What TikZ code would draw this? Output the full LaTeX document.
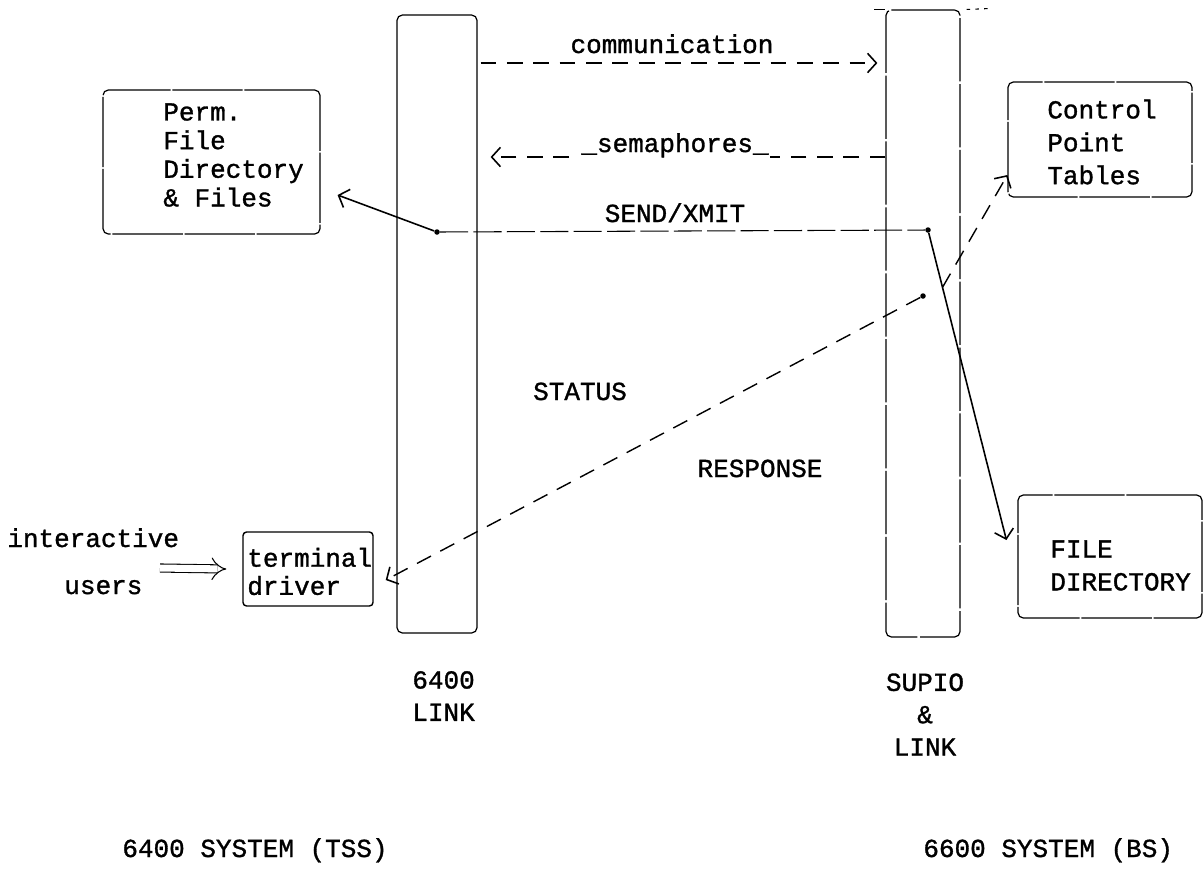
\documentclass[tikz,border=0pt]{standalone}
\usepackage{fontspec}
\setmainfont{Liberation Mono}[FakeBold=1.2]
\usetikzlibrary{arrows.meta}
\begin{document}
\begin{tikzpicture}[x=0.02cm,y=-0.02cm,
  every node/.style={font=\fontsize{14.8}{18.4}\selectfont, inner sep=0pt},
  box/.style={draw, line width=0.7pt, rounded corners=3pt, dash pattern=on 40pt off 1pt},
  col/.style={draw, line width=0.7pt, rounded corners=3pt},
  txt/.style={align=left, anchor=west},
  dsh/.style={line width=0.8pt, dash pattern=on 9pt off 6pt},
  sendline/.style={line width=0.6pt, dash pattern=on 16pt off 3pt},
  solidc/.style={line width=0.9pt},
  tip/.style={-{Straight Barb[length=5pt,width=11pt,line width=0.9pt]}},
  dotn/.style={circle, fill, inner sep=0pt, minimum size=0.11cm}
]
\useasboundingbox (0,0) rectangle (1204,877);

% columns
\node[col, minimum width=1.6cm, minimum height=12.36cm] (lcol) at (437,324) {};
\node[col, dash pattern=on 36pt off 1.5pt, minimum width=1.48cm, minimum height=12.54cm] (rcol) at (923,323.5) {};
\draw[line width=0.7pt] ([xshift=-0.22cm]rcol.north west) -- (rcol.north west);
\draw[line width=0.6pt, dash pattern=on 2pt off 3pt] ([xshift=0.12cm]rcol.north east) -- +(25,-1);

% boxes
\node[box, minimum width=4.34cm, minimum height=2.88cm] (perm) at (211.5,162) {};
\node[txt, font=\fontsize{14.8}{16.3}\selectfont] (permtxt) at (163,155) {Perm.\\File\\Directory\\\& Files};

\node[box, minimum width=3.68cm, minimum height=2.3cm] (cpt) at (1100,139.5) {};
\node[txt, font=\fontsize{14.8}{18.7}\selectfont] (cpttxt) at (1047,142) {Control\\Point\\Tables};

\node[box, minimum width=3.68cm, minimum height=2.46cm] (fd) at (1110,556.5) {};
\node[txt, font=\fontsize{14.8}{18.7}\selectfont] (fdtxt) at (1050,565.5) {FILE\\DIRECTORY};

\node[draw, line width=0.8pt, rounded corners=2pt, minimum width=2.6cm, minimum height=1.48cm] (td) at (308,569) {};
\node[txt, font=\fontsize{14.8}{16}\selectfont] (tdtxt) at (247,571.5) {terminal\\driver};

% labels
\node[anchor=base] (comm) at (672,53) {communication};
\node[anchor=base] (send) at (675,222) {SEND/XMIT};
\node[anchor=base] (status) at (580,400) {STATUS};
\node[anchor=base] (resp) at (760,477) {RESPONSE};
\node[txt] (link1) at (412,696) {6400\\LINK};
\node[align=center] (link2) at (925,714.5) {SUPIO\\\&\\LINK};
\node[anchor=base west] (sys1) at (122,857) {6400 SYSTEM (TSS)};
\node[anchor=base west] (sys2) at (923,857) {6600 SYSTEM (BS)};
\node[anchor=base west] (inter) at (7,547) {interactive};
\node[anchor=base west] (users) at (64,594) {users};

% helper heights
\coordinate (y62) at (0,63);
\coordinate (y157) at (0,157);

% communication / semaphores
\draw[dsh, tip, shorten <=0.06cm, shorten >=0.16cm] (lcol.east |- y62) -- (rcol.west |- y62);
\draw[dsh, tip, shorten >=0.26cm] (rcol.west |- y157) -- (lcol.east |- y157);
\node[anchor=base, fill=white, inner xsep=1pt, inner ysep=0.5pt] (sema) at (675,152) {\_semaphores\_};

% dots
\node[dotn] (d1) at (437,232) {};
\node[dotn] (d2) at (928,230) {};
\node[dotn] (d3) at (923,296) {};

% SEND/XMIT
\draw[sendline] (d1) -- (d2);
\draw[solidc, tip] (d1) -- ([shift={(17,33)}]perm.east);
\draw[solidc, tip] (d2) -- ([shift={(-11,-16.5)}]fd.west);
\path (d2) -- ([shift={(-11,-16.5)}]fd.west) coordinate[pos=0.177] (cps);

% STATUS / RESPONSE
\draw[dsh, tip] (d3) -- ([shift={(12,11)}]td.east);
\draw[dsh, tip] (cps) -- ([shift={(0,35.5)}]cpt.west);

% interactive users
\coordinate (ua) at (160,568);
\draw[line width=0.6pt, double, double distance=4pt, -{Implies}] (ua) -- ([shift={(-16,0)}]td.west);
\end{tikzpicture}
\end{document}
